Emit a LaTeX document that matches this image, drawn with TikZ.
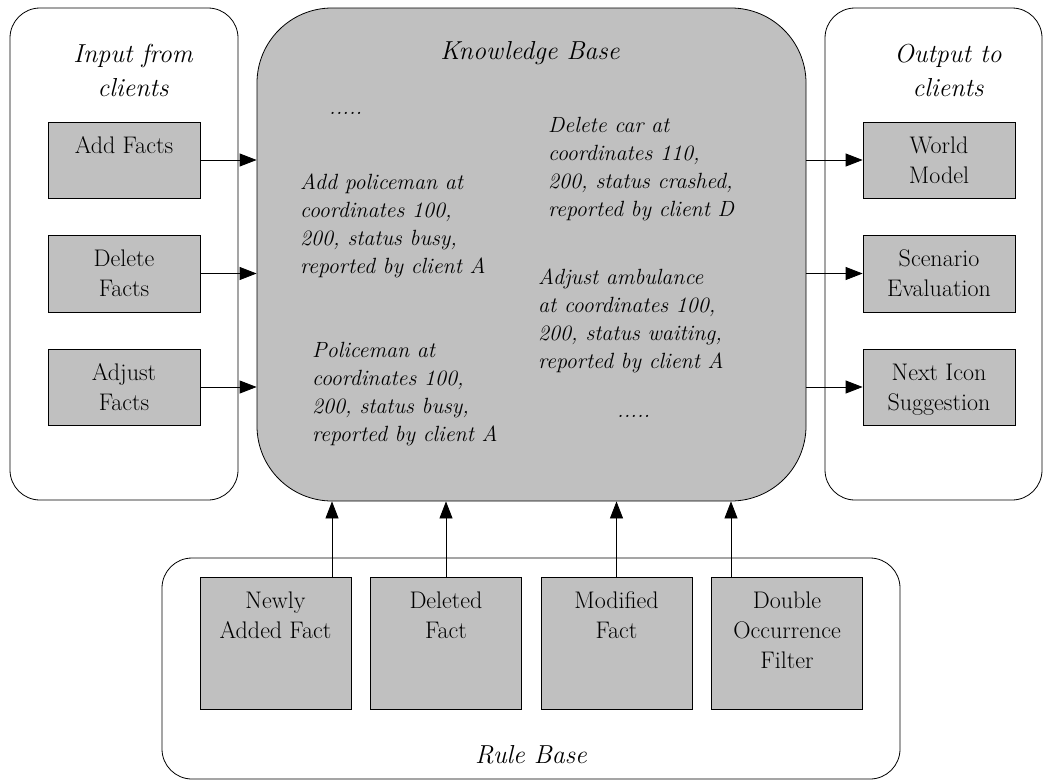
\documentclass[tikz,border=0pt]{standalone}
\usepackage{fontspec}
\usetikzlibrary{arrows.meta}
\definecolor{boxgray}{RGB}{192,192,192}
% top-aligned, centred text inside a fixed-size box
\newcommand\boxtext[3]{\parbox[c][#1][t]{#2}{\centering\vspace*{10pt}\strut#3}}
\begin{document}
\begin{tikzpicture}[x=1pt,y=-1pt,
  container/.style={draw, line width=0.8pt, rounded corners=30pt, inner sep=0pt},
  gbox/.style={draw, fill=boxgray, line width=0.8pt, inner sep=0pt,
    font=\fontsize{24}{30}\selectfont},
  title/.style={font=\fontsize{26}{34}\selectfont\itshape, align=center, inner sep=0pt},
  % multi-line facts are placed by the baseline of their last line
  fact/.style={font=\fontsize{22}{28}\selectfont\itshape, align=left, inner sep=0pt, anchor=base west},
  arr/.style={line width=0.8pt, -{Triangle[length=17pt,width=13pt]}},
]
\useasboundingbox (0,0) rectangle (1043,782);

% containers
\node[container, minimum width=228pt, minimum height=492pt] (input) at (124,254) {};
\node[container, minimum width=217pt, minimum height=492pt] (output) at (933.5,254) {};
\node[container, fill=boxgray, rounded corners=75pt, minimum width=549pt, minimum height=493pt] (kb) at (531.5,254.5) {};
\node[container, minimum width=738pt, minimum height=221pt] (rules) at (531,668.5) {};

% titles
\node[title] (intitle) at (133,70) {Input from\\clients};
\node[title] (outtitle) at (948,70) {Output to\\clients};
\node[title] (kbtitle) at (530,53) {Knowledge Base};
\node[title] (rbtitle) at (531,755) {Rule Base};

% input boxes
\node[gbox] (addf) at (124,160) {\boxtext{76pt}{152pt}{Add Facts}};
\node[gbox] (delf) at (124,273.5) {\boxtext{77pt}{152pt}{Delete\\Facts}};
\node[gbox] (adjf) at (124,387) {\boxtext{76pt}{152pt}{Adjust\\Facts}};

% output boxes
\node[gbox] (wm) at (939,160) {\boxtext{76pt}{152pt}{World\\Model}};
\node[gbox] (se) at (939,273.5) {\boxtext{77pt}{152pt}{Scenario\\Evaluation}};
\node[gbox] (nis) at (939,387) {\boxtext{76pt}{152pt}{Next Icon\\Suggestion}};

% rule boxes
\node[gbox] (naf) at (275.5,643) {\boxtext{132pt}{151pt}{Newly\\Added Fact}};
\node[gbox] (df) at (446,643) {\boxtext{132pt}{151pt}{Deleted\\Fact}};
\node[gbox] (mf) at (616.5,643) {\boxtext{132pt}{151pt}{Modified\\Fact}};
\node[gbox] (dof) at (787,643) {\boxtext{132pt}{151pt}{Double\\Occurrence\\Filter}};

% knowledge base contents
\node[fact] (dotsa) at (329,114) {.....};
\node[fact] (facta) at (300,273) {Add policeman at\\coordinates 100,\\200, status busy,\\reported by client A};
\node[fact] (factb) at (548,216) {Delete car at\\coordinates 110,\\200, status crashed,\\reported by client D};
\node[fact] (factc) at (538,368) {Adjust ambulance\\at coordinates 100,\\200, status waiting,\\reported by client A};
\node[fact] (factd) at (312,441) {Policeman at\\coordinates 100,\\200, status busy,\\reported by client A};
\node[fact] (dotsb) at (617,417) {.....};

% connectors: input -> knowledge base
\draw[arr] (addf.east) -- (addf.east -| kb.west);
\draw[arr] (delf.east) -- (delf.east -| kb.west);
\draw[arr] (adjf.east) -- (adjf.east -| kb.west);

% connectors: knowledge base -> output
\draw[arr] (kb.east |- wm.west) -- (wm.west);
\draw[arr] (kb.east |- se.west) -- (se.west);
\draw[arr] (kb.east |- nis.west) -- (nis.west);

% connectors: rule base -> knowledge base
\coordinate (nafa) at ([xshift=56.5pt]naf.north);
\coordinate (dfa) at (df.north);
\coordinate (mfa) at (mf.north);
\coordinate (dofa) at ([xshift=-56pt]dof.north);
\draw[arr] (nafa) -- (nafa |- kb.south);
\draw[arr] (dfa) -- (dfa |- kb.south);
\draw[arr] (mfa) -- (mfa |- kb.south);
\draw[arr] (dofa) -- (dofa |- kb.south);
\end{tikzpicture}
\end{document}
